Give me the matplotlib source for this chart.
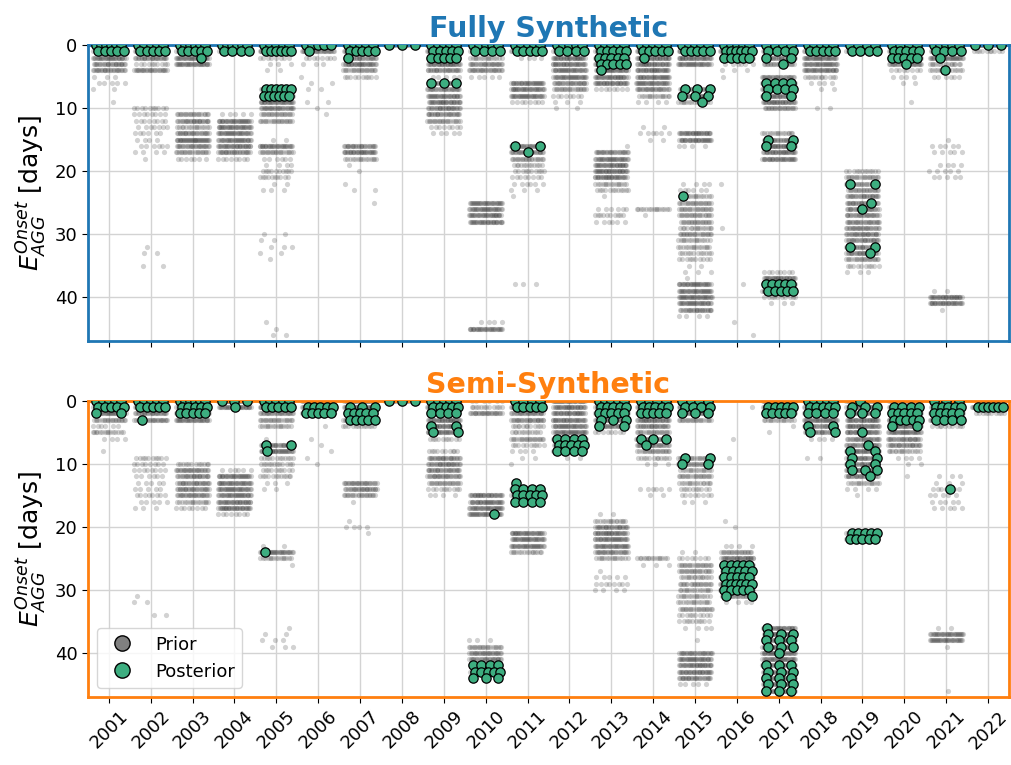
import numpy as np
import matplotlib.pyplot as plt
from matplotlib.lines import Line2D

years = list(range(2001, 2023))
day_ticks = [0, 10, 20, 30, 40]

# prior samples: {year: {day: number of samples}}
prior_full = {
    2001: {0: 30, 1: 30, 2: 30, 3: 25, 4: 25, 5: 3, 6: 5, 7: 2, 9: 1},
    2002: {0: 30, 1: 30, 2: 25, 3: 10, 4: 25, 10: 10, 11: 8, 12: 8, 13: 7, 14: 6, 15: 4, 16: 6, 17: 4, 18: 1, 32: 1, 33: 2, 35: 2},
    2003: {0: 30, 1: 30, 2: 30, 3: 30, 11: 20, 12: 25, 13: 15, 14: 25, 15: 35, 16: 25, 17: 20, 18: 7},
    2004: {0: 30, 1: 25, 11: 5, 12: 30, 13: 30, 14: 30, 15: 30, 16: 30, 17: 25, 18: 8},
    2005: {0: 30, 1: 30, 2: 8, 3: 3, 4: 2, 7: 25, 8: 30, 9: 30, 10: 25, 11: 20, 12: 20, 15: 2, 16: 30, 17: 20, 18: 6,
           19: 4, 20: 10, 21: 10, 22: 2, 23: 3, 30: 2, 31: 2, 32: 3, 33: 2, 34: 1, 44: 1, 45: 1, 46: 2},
    2006: {0: 20, 1: 25, 2: 8, 3: 3, 5: 1, 6: 2, 7: 2, 9: 2, 10: 1, 11: 1},
    2007: {0: 30, 1: 30, 2: 25, 3: 30, 4: 20, 5: 10, 16: 25, 17: 30, 18: 15, 19: 1, 20: 1, 22: 1, 23: 2, 25: 1},
    2008: {0: 20},
    2009: {0: 30, 1: 30, 2: 30, 3: 30, 4: 25, 5: 5, 6: 20, 7: 25, 8: 30, 9: 30, 10: 25, 11: 25, 12: 20, 13: 8, 14: 5},
    2010: {0: 25, 1: 25, 2: 15, 3: 25, 4: 25, 5: 5, 25: 30, 26: 30, 27: 30, 28: 30, 44: 4, 45: 30},
    2011: {0: 25, 1: 25, 2: 4, 6: 30, 7: 30, 8: 30, 9: 8, 16: 25, 17: 25, 18: 20, 19: 12, 20: 10, 21: 8, 22: 6,
           23: 3, 24: 1, 38: 3},
    2012: {0: 30, 1: 30, 2: 30, 3: 30, 4: 30, 5: 30, 6: 25, 7: 20, 8: 8, 9: 3, 10: 2},
    2013: {0: 30, 1: 30, 2: 30, 3: 30, 4: 30, 5: 30, 6: 30, 7: 8, 16: 1, 17: 25, 18: 30, 19: 30, 20: 30, 21: 30,
           22: 15, 23: 12, 24: 1, 26: 6, 27: 10, 28: 6},
    2014: {0: 30, 1: 30, 2: 30, 3: 30, 4: 30, 5: 30, 6: 30, 7: 25, 8: 15, 9: 4, 13: 2, 14: 6, 15: 2, 26: 15, 27: 1},
    2015: {0: 30, 1: 30, 2: 30, 3: 30, 7: 20, 8: 30, 9: 15, 14: 30, 15: 30, 16: 4, 22: 4, 23: 6, 24: 15, 25: 20,
           26: 20, 27: 20, 28: 20, 29: 15, 30: 20, 31: 15, 32: 15, 33: 12, 34: 10, 35: 2, 36: 3, 37: 1, 38: 30,
           39: 30, 40: 30, 41: 30, 42: 25, 43: 4},
    2016: {0: 30, 1: 30, 2: 30, 3: 6, 4: 3, 5: 1, 22: 1, 29: 1, 38: 1, 44: 1, 46: 1},
    2017: {0: 30, 1: 30, 2: 25, 3: 20, 5: 25, 6: 30, 7: 30, 8: 30, 9: 30, 10: 20, 14: 15, 15: 25, 16: 30, 17: 30,
           18: 30, 36: 8, 37: 30, 38: 30, 39: 30, 40: 10, 41: 3},
    2018: {0: 30, 1: 30, 2: 30, 3: 30, 4: 30, 5: 12, 6: 4, 7: 2, 10: 2},
    2019: {0: 30, 1: 25, 20: 12, 21: 20, 22: 20, 23: 20, 24: 25, 25: 25, 26: 25, 27: 25, 28: 25, 29: 25, 30: 25,
           31: 25, 32: 25, 33: 25, 34: 20, 35: 10, 36: 3},
    2020: {0: 30, 1: 30, 2: 30, 3: 25, 4: 8, 5: 4, 6: 2, 9: 1},
    2021: {0: 30, 1: 30, 2: 30, 3: 15, 4: 15, 5: 6, 15: 1, 16: 5, 17: 5, 19: 4, 20: 5, 21: 5, 39: 2, 40: 30, 41: 30, 42: 1},
    2022: {0: 25, 1: 10},
}

prior_semi = {
    2001: {0: 30, 1: 30, 2: 30, 3: 20, 4: 6, 5: 15, 6: 4, 8: 1},
    2002: {0: 30, 1: 30, 2: 25, 3: 25, 9: 10, 10: 8, 11: 8, 12: 6, 13: 5, 14: 5, 15: 8, 16: 5, 17: 3, 31: 1, 32: 2, 34: 2},
    2003: {0: 30, 1: 30, 2: 30, 3: 30, 10: 12, 11: 25, 12: 25, 13: 25, 14: 25, 15: 25, 16: 15, 17: 8},
    2004: {0: 30, 1: 30, 11: 6, 12: 30, 13: 30, 14: 30, 15: 30, 16: 30, 17: 30, 18: 8},
    2005: {0: 30, 1: 30, 2: 25, 3: 20, 4: 15, 6: 1, 7: 25, 8: 30, 9: 12, 10: 12, 11: 10, 12: 12, 13: 3, 14: 2,
           23: 2, 24: 30, 25: 15, 26: 1, 36: 1, 37: 2, 38: 3, 39: 3},
    2006: {0: 20, 1: 30, 2: 30, 4: 1, 6: 1, 7: 1, 8: 1, 9: 1, 10: 1},
    2007: {0: 30, 1: 30, 2: 30, 3: 30, 4: 12, 13: 25, 14: 25, 15: 20, 16: 1, 19: 1, 20: 4, 21: 1},
    2008: {0: 20},
    2009: {0: 30, 1: 30, 2: 30, 3: 30, 4: 30, 5: 30, 6: 10, 8: 10, 9: 25, 10: 25, 11: 25, 12: 25, 13: 20, 14: 10, 15: 4},
    2010: {0: 6, 1: 12, 2: 25, 15: 30, 16: 30, 17: 30, 18: 30, 38: 3, 39: 20, 40: 25, 41: 25, 42: 20, 43: 15},
    2011: {0: 30, 1: 30, 2: 25, 3: 25, 4: 12, 5: 12, 6: 20, 7: 10, 8: 4, 9: 2, 10: 1, 14: 12, 15: 12, 16: 10,
           21: 30, 22: 30, 23: 30, 24: 15},
    2012: {0: 30, 1: 30, 2: 30, 3: 30, 4: 30, 5: 30, 6: 30, 7: 25, 8: 20, 9: 2},
    2013: {0: 30, 1: 30, 2: 30, 3: 30, 4: 25, 5: 8, 18: 2, 19: 15, 20: 25, 21: 30, 22: 30, 23: 30, 24: 25, 25: 15,
           27: 1, 28: 5, 29: 8, 30: 4},
    2014: {0: 30, 1: 30, 2: 30, 3: 30, 4: 25, 5: 20, 6: 25, 7: 25, 8: 20, 9: 12, 10: 3, 14: 6, 15: 2, 25: 15, 26: 3},
    2015: {0: 30, 1: 30, 2: 30, 3: 20, 9: 20, 10: 20, 11: 15, 12: 20, 13: 15, 14: 10, 15: 8, 16: 3, 24: 2, 25: 8,
           26: 20, 27: 20, 28: 15, 29: 20, 30: 15, 31: 15, 32: 15, 33: 20, 34: 10, 35: 10, 36: 4, 38: 1, 40: 25,
           41: 30, 42: 30, 43: 30, 44: 25, 45: 5},
    2016: {1: 1, 6: 1, 9: 1, 19: 1, 20: 1, 23: 4, 24: 20, 25: 30, 26: 30, 27: 30, 28: 30, 29: 30, 30: 30, 31: 20, 32: 4},
    2017: {0: 30, 1: 30, 2: 30, 3: 15, 4: 1, 5: 1, 36: 30, 37: 30, 38: 30, 39: 30, 40: 30, 41: 30, 42: 30, 43: 30,
           44: 30, 45: 30, 46: 30},
    2018: {0: 30, 1: 30, 2: 30, 3: 30, 4: 25, 5: 25, 6: 4, 9: 2},
    2019: {0: 25, 1: 30, 2: 30, 3: 30, 4: 30, 5: 30, 6: 25, 7: 25, 8: 30, 9: 25, 10: 25, 11: 25, 12: 25, 13: 15,
           14: 4, 15: 1, 21: 20, 22: 15},
    2020: {0: 20, 1: 30, 2: 30, 3: 30, 4: 30, 5: 30, 6: 25, 7: 25, 8: 15, 9: 4, 10: 2, 12: 1},
    2021: {0: 30, 1: 30, 2: 30, 3: 30, 4: 10, 12: 3, 13: 3, 14: 6, 15: 5, 16: 5, 17: 5, 36: 2, 37: 30, 38: 30, 39: 1, 46: 1},
    2022: {1: 30, 2: 10},
}

# posterior samples: {year: {day: number of samples}}
post_full = {
    2001: {0: 6, 1: 5}, 2002: {0: 5, 1: 5}, 2003: {0: 6, 1: 5, 2: 1}, 2004: {0: 6, 1: 4},
    2005: {0: 5, 1: 6, 7: 6, 8: 6}, 2006: {0: 5, 1: 1}, 2007: {0: 5, 1: 5, 2: 1}, 2008: {0: 3},
    2009: {0: 5, 1: 5, 2: 5, 6: 3}, 2010: {0: 5, 1: 4}, 2011: {0: 5, 1: 5, 16: 2, 17: 1},
    2012: {0: 5, 1: 4}, 2013: {0: 5, 1: 5, 2: 5, 3: 5, 4: 1}, 2014: {0: 5, 1: 5, 2: 1},
    2015: {0: 5, 1: 5, 7: 3, 8: 3, 9: 1, 24: 1}, 2016: {0: 5, 1: 6, 2: 5},
    2017: {0: 4, 1: 4, 2: 2, 3: 1, 6: 4, 7: 4, 8: 2, 15: 2, 16: 2, 38: 5, 39: 5},
    2018: {0: 5, 1: 5}, 2019: {0: 4, 1: 4, 22: 2, 25: 1, 26: 1, 32: 2, 33: 1},
    2020: {0: 4, 1: 5, 2: 5, 3: 1}, 2021: {0: 5, 1: 4, 2: 1, 4: 1}, 2022: {0: 3},
}

post_semi = {
    2001: {0: 5, 1: 5, 2: 2}, 2002: {0: 5, 1: 5, 3: 1}, 2003: {0: 6, 1: 5, 2: 5}, 2004: {0: 3, 1: 1},
    2005: {0: 5, 1: 5, 7: 2, 8: 1, 24: 1}, 2006: {1: 5, 2: 5}, 2007: {1: 3, 2: 5, 3: 5}, 2008: {0: 3},
    2009: {0: 5, 1: 5, 2: 4, 4: 2, 5: 2}, 2010: {18: 1, 42: 4, 43: 5, 44: 3},
    2011: {0: 4, 1: 5, 13: 1, 14: 4, 15: 5, 16: 4}, 2012: {6: 4, 7: 5, 8: 4},
    2013: {0: 5, 1: 5, 2: 5, 3: 3, 4: 2}, 2014: {0: 4, 1: 5, 2: 5, 6: 3, 7: 1},
    2015: {0: 4, 1: 4, 2: 3, 9: 2, 10: 2}, 2016: {26: 5, 27: 5, 28: 5, 29: 6, 30: 5, 31: 2},
    2017: {1: 5, 2: 5, 36: 1, 37: 3, 38: 3, 39: 3, 40: 1, 42: 3, 43: 3, 44: 3, 45: 3, 46: 3},
    2018: {0: 5, 1: 5, 2: 4, 4: 2, 5: 2},
    2019: {0: 1, 1: 3, 2: 3, 5: 1, 7: 1, 8: 2, 9: 2, 10: 2, 11: 3, 12: 1, 21: 5, 22: 5},
    2020: {1: 4, 2: 5, 3: 5, 4: 2}, 2021: {0: 3, 1: 5, 2: 5, 3: 4, 14: 1}, 2022: {1: 6},
}


def prior_xy(rows):
    xs, ys = [], []
    for i, yr in enumerate(years):
        for d, n in rows.get(yr, {}).items():
            frac = (np.arange(n) * 0.618034 + 0.29 * d + 0.11 * i) % 1.0
            xs.extend(i + 0.8 * (frac - 0.5))
            ys.extend([d] * n)
    return np.array(xs), np.array(ys)


def post_xy(rows):
    xs, ys = [], []
    for i, yr in enumerate(years):
        for d, n in rows.get(yr, {}).items():
            if n == 1:
                off = np.array([0.6 * (((d * 0.618034 + i * 0.3) % 1.0) - 0.5)])
            else:
                off = np.linspace(-0.3, 0.3, n) + 0.05 * (d % 2)
            xs.extend(i + off)
            ys.extend([d] * n)
    return np.array(xs), np.array(ys)


green = '#3dae80'
fig = plt.figure(figsize=(10.11, 7.65), dpi=100)
ax1 = fig.add_axes([0.087, 0.554, 0.911, 0.387])
ax2 = fig.add_axes([0.087, 0.089, 0.911, 0.387])

panels = [(ax1, prior_full, post_full, 'Fully Synthetic', '#1f77b4'),
          (ax2, prior_semi, post_semi, 'Semi-Synthetic', '#ff7f0e')]

for ax, pr, po, title, col in panels:
    x, y = prior_xy(pr)
    ax.scatter(x, y, s=14, c='#333333', alpha=0.22, lw=0, zorder=2)
    x, y = post_xy(po)
    ax.scatter(x, y, s=45, c=green, edgecolors='black', lw=0.9, zorder=3)
    ax.set_xlim(-0.5, 21.5)
    ax.set_ylim(47, 0)
    ax.set_yticks(day_ticks)
    ax.set_xticks(range(len(years)))
    ax.grid(True, color='#d3d3d3', lw=1)
    ax.set_axisbelow(True)
    ax.tick_params(labelsize=13, length=4)
    ax.set_ylabel('$E_{AGG}^{Onset}$ [days]', fontsize=18)
    ax.set_title(title, color=col, fontweight='bold', fontsize=20.5)
    for s in ax.spines.values():
        s.set_color(col)
        s.set_linewidth(2)

ax1.set_xticklabels([])
ax2.set_xticklabels([str(yr) for yr in years], rotation=45)

handles = [Line2D([], [], ls='', marker='o', ms=11, mfc='grey', mec='black', label='Prior'),
           Line2D([], [], ls='', marker='o', ms=11, mfc=green, mec='black', label='Posterior')]
ax2.legend(handles=handles, loc='lower left', fontsize=13)

fig.savefig('out.png', dpi=100)
